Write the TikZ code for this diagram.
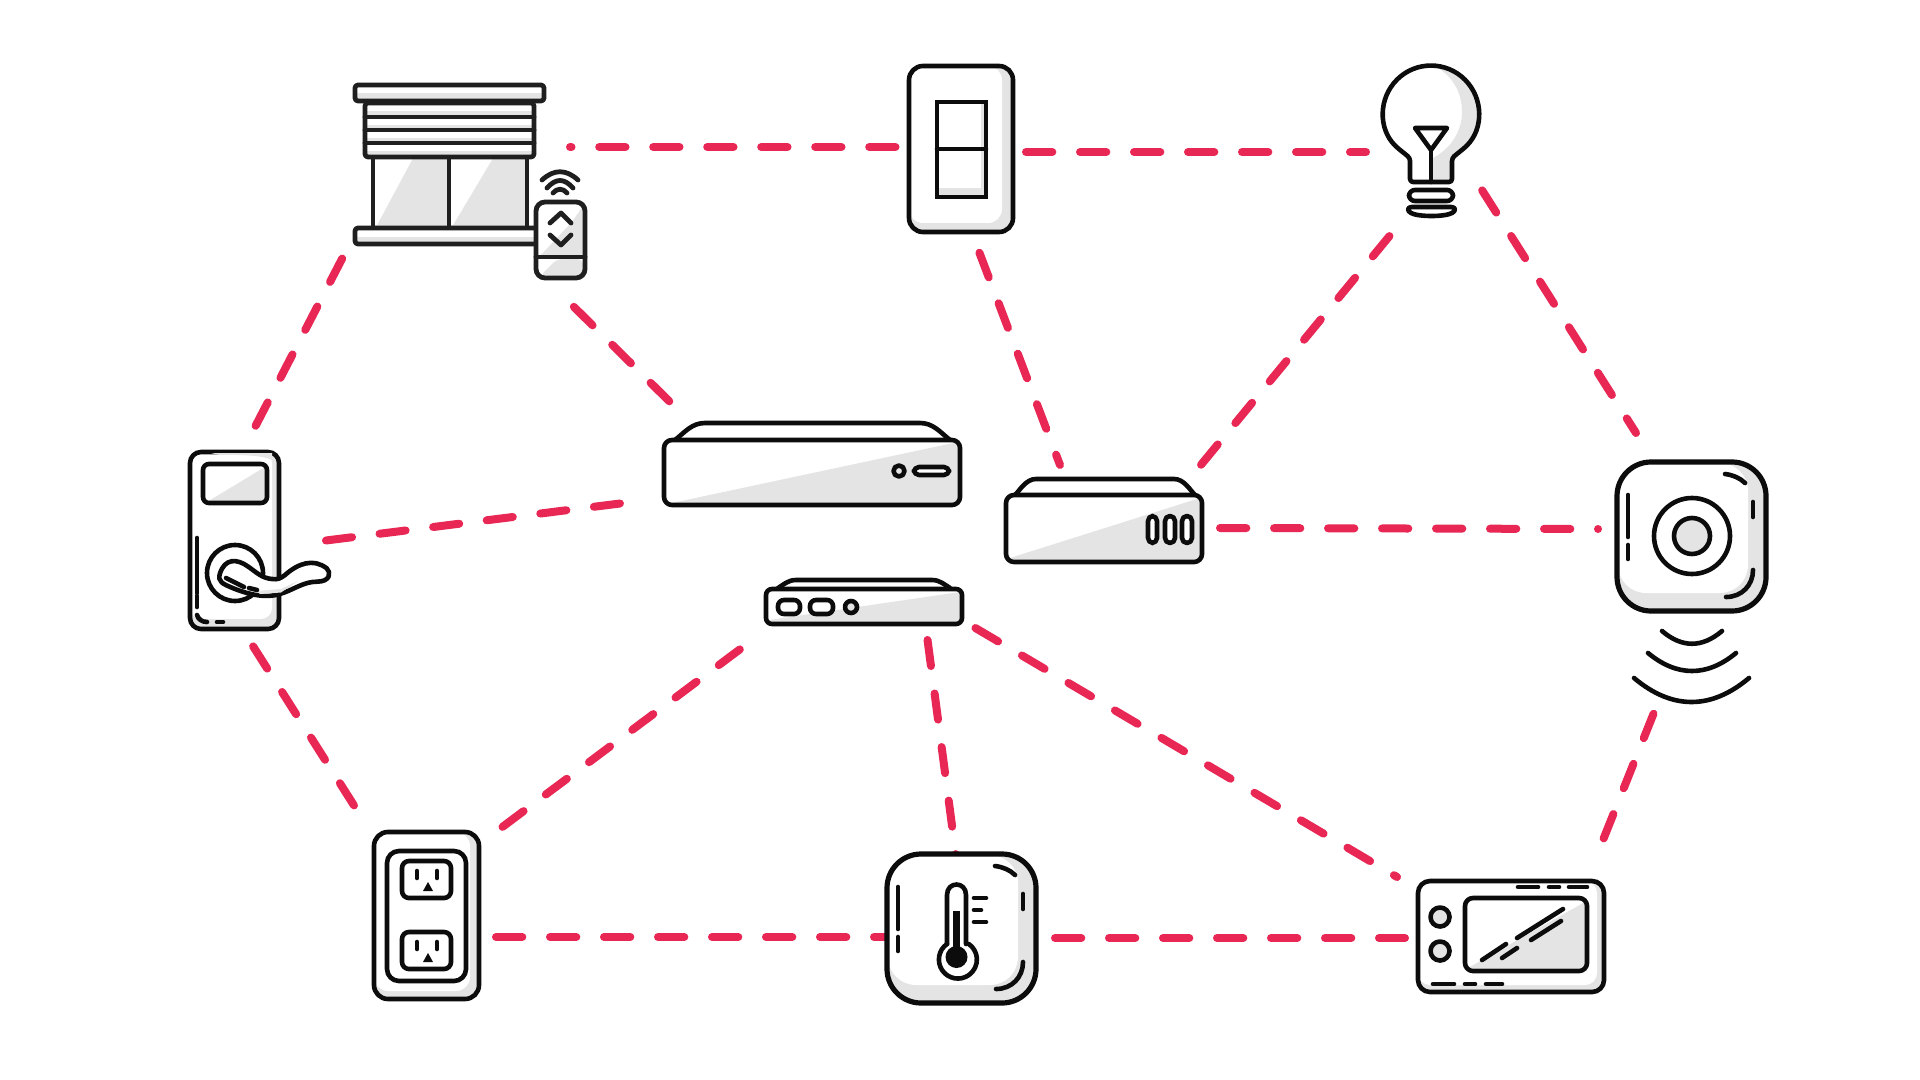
\documentclass[tikz,border=0pt]{standalone}
\definecolor{linkred}{HTML}{E82754}
\definecolor{shadegrey}{HTML}{E4E4E4}
\definecolor{inkblack}{HTML}{0C0C0C}
\tikzset{
  link/.style={draw=linkred,line width=4pt,line cap=round,shorten <=2pt,dash pattern=on 13.15pt off 13.85pt},
  ink/.style={draw=inkblack,line width=2.3pt,line join=round,line cap=round},
  shade/.style={fill=shadegrey},
}
% outer plate: x1 y1 x2 y2 radius(pt) white-right white-bottom
\newcommand{\plateshape}[7]{%
  \fill[shade,rounded corners=#5] (#1,#2) rectangle (#3,#4);
  \fill[white,rounded corners=#5] (#1,#2) rectangle (#6,#7);
  \draw[ink,rounded corners=#5] (#1,#2) rectangle (#3,#4);
}
\newcommand{\padshape}{%
  \fill[shade,rounded corners=17pt] (1617,462) rectangle (1766,611);
  \fill[white,rounded corners=14pt] (1618,463) rectangle (1748,593);
  \draw[ink,line width=2.6pt,rounded corners=17pt] (1617,462) rectangle (1766,611);
  \draw[ink] (1628,495) -- (1628,537);
  \draw[ink] (1628,545) -- (1628,559);
  \draw[ink] (1725,474) .. controls (1733,475) and (1740,478) .. (1745,483);
  \draw[ink] (1753,502) -- (1753,517);
  \draw[ink] (1753,570) .. controls (1753,585) and (1742,597) .. (1726,597);
}
\begin{document}
\begin{tikzpicture}[x=0.5pt,y=-0.5pt]
\useasboundingbox (0,0) rectangle (1920,1080);
\fill[white] (0,0) rectangle (1920,1080);

% ---------- connector ends ----------
\coordinate (blindsE) at (570,147);   \coordinate (switchW) at (899.5,147);
\coordinate (switchE) at (1022,152);  \coordinate (bulbW) at (1366,152);
\coordinate (blindsS) at (344,255);   \coordinate (lockN) at (255,427);
\coordinate (remoteS) at (571,304);   \coordinate (hubAN) at (670,402);
\coordinate (switchS) at (978,249);   \coordinate (hubBNw) at (1060,465);
\coordinate (bulbSw) at (1392,233);   \coordinate (hubBNe) at (1200,466);
\coordinate (bulbSe) at (1480,187);   \coordinate (speakerN) at (1636,433);
\coordinate (hubBE) at (1216,528);    \coordinate (speakerW) at (1598,529);
\coordinate (lockE) at (322,541);     \coordinate (hubAW) at (624,503);
\coordinate (lockS) at (251,643);     \coordinate (outletN) at (355,807);
\coordinate (hubCSw) at (743,647);    \coordinate (outletNe) at (501,828);
\coordinate (hubCS) at (927,636);     \coordinate (thermoN) at (956,856);
\coordinate (hubCSe) at (972,626);    \coordinate (panelNw) at (1397,877);
\coordinate (outletE) at (492,937);   \coordinate (thermoW) at (890,937);
\coordinate (thermoE) at (1051,938);  \coordinate (panelW) at (1405,938);
\coordinate (speakerS) at (1655,710); \coordinate (panelN) at (1603,840);

% ---------- connectors ----------
\draw[link] (switchW) -- (blindsE);
\draw[link] (switchE) -- (bulbW);
\draw[link] (blindsS) -- (lockN);
\draw[link] (remoteS) -- (hubAN);
\draw[link] (switchS) -- (hubBNw);
\draw[link] (bulbSw) -- (hubBNe);
\draw[link] (bulbSe) -- (speakerN);
\draw[link] (hubBE) -- (speakerW);
\draw[link] (lockE) -- (hubAW);
\draw[link] (lockS) -- (outletN);
\draw[link] (hubCSw) -- (outletNe);
\draw[link] (hubCS) -- (thermoN);
\draw[link] (hubCSe) -- (panelNw);
\draw[link] (outletE) -- (thermoW);
\draw[link] (thermoE) -- (panelW);
\draw[link] (speakerS) -- (panelN);

% ---------- blinds ----------
\begin{scope}[ink/.append style={draw=black!88,line width=2.4pt}]
\fill[shade] (373,158) rectangle (527,226);
\fill[white] (373,158) -- (413,158) -- (377,225) -- (373,225) -- cycle;
\fill[white] (449,158) -- (493,158) -- (453,225) -- (449,225) -- cycle;
\draw[ink] (373,158) -- (373,227) (449,158) -- (449,227) (527,158) -- (527,227);
\foreach \yy in {103,117,130,143} {
  \fill[white] (365,\yy) rectangle (534,\yy+14);
  \fill[shade] (365,\yy+8) rectangle (534,\yy+14);
}
\draw[ink,rounded corners=1.5pt] (365,103) rectangle (534,157);
\draw[ink] (365,117) -- (534,117) (365,130) -- (534,130) (365,143) -- (534,143);
\fill[white] (355,85) rectangle (544,101);
\fill[shade] (356,93) rectangle (543,100);
\draw[ink,rounded corners=1.5pt] (355,85) rectangle (544,101);
\fill[white] (355,228) rectangle (540,244);
\fill[shade] (356,237) rectangle (540,243);
\draw[ink,rounded corners=1.5pt] (355,228) rectangle (540,244);
% remote
\fill[white,rounded corners=4.5pt] (536,202) rectangle (585,278);
\fill[shade] (583,206) -- (583,256) -- (540,256) -- (572,222) -- cycle;
\fill[shade,rounded corners=3pt] (583,259) -- (583,276) -- (540,276) -- (557,259) -- cycle;
\draw[ink,rounded corners=4.5pt] (536,202) rectangle (585,278);
\draw[ink] (536,257) -- (585,257);
\draw[ink] (550,223) -- (561,213) -- (571,223);
\draw[ink] (550,235) -- (561,245) -- (571,235);
\draw[ink] (542,180) .. controls (554,169) and (566,169) .. (578,180);
\draw[ink] (547,188) .. controls (556,178) and (564,178) .. (573,188);
\draw[ink] (553,193) .. controls (557,188) and (563,188) .. (567,193);
\end{scope}

% ---------- switch ----------
\plateshape{909}{66}{1013}{232}{7pt}{1002}{223}
\fill[white] (937,102) rectangle (986,197);
\fill[shade] (981,103) rectangle (985,149);
\fill[shade] (981,151) rectangle (985,197);
\fill[shade] (938,188) rectangle (985,197);
\draw[ink,line join=miter] (937,102) rectangle (986,197);
\draw[ink] (937,149) -- (986,149);

% ---------- bulb ----------
\fill[white] (1410,182) -- (1410,158) -- (1397,147.5) arc[start angle=135,end angle=405,radius=48] -- (1452,158) -- (1452,182) -- cycle;
\fill[shade] (1438,68) .. controls (1462,70) and (1478,90) .. (1479,113)
  .. controls (1479,130) and (1475,140) .. (1465,148) -- (1452,158) -- (1452,182) -- (1433,182) -- (1433,158)
  .. controls (1452,148) and (1462,130) .. (1462,112) .. controls (1462,90) and (1450,75) .. (1438,68) -- cycle;
\draw[ink,rounded corners=1.5pt] (1410,182) -- (1410,158) -- (1397,147.5) arc[start angle=135,end angle=405,radius=48] -- (1452,158) -- (1452,182) -- cycle;
\draw[ink] (1415,128) -- (1447,128) -- (1431,150) -- cycle;
\draw[ink] (1431,150) -- (1431,182);
\draw[ink,rounded corners=3pt] (1409,190) rectangle (1453,201);
\draw[ink] (1412,207) -- (1451,207) .. controls (1456,207) and (1456,211) .. (1452,213) .. controls (1445,217) and (1418,217) .. (1411,213) .. controls (1407,211) and (1407,207) .. (1412,207) -- cycle;

% ---------- speaker ----------
\padshape
\draw[ink] (1692,536) circle (38);
\draw[ink,fill=shadegrey] (1692,536) circle (18);
\draw[ink] (1662,631) .. controls (1682,648) and (1702,648) .. (1722,631);
\draw[ink] (1648,653) .. controls (1677,677) and (1707,677) .. (1736,653);
\draw[ink] (1634,678) .. controls (1672,710) and (1711,710) .. (1749,678);

% ---------- lock ----------
\plateshape{190}{452}{279}{629}{5.5pt}{272}{619}
\fill[shade] (211,453) -- (272,453) -- (272,460) .. controls (260,454) and (230,455) .. (220,455) -- cycle;
\draw[ink] (197,538) -- (197,593);
\draw[ink] (197,596) -- (197,607);
\draw[ink] (197,615) .. controls (198,619) and (202,622) .. (207,622);
\draw[ink] (217,622) -- (223,622);
\fill[white,rounded corners=3pt] (203,464) rectangle (267,503);
\fill[shade] (207,502) -- (265,467) -- (265,502) -- cycle;
\draw[ink,rounded corners=3pt] (203,464) rectangle (267,503);
\draw[ink,fill=white] (235,573) circle (28);
\draw[ink,fill=white] (220,573.3) .. controls (225,558.3) and (236.7,558.3) .. (248.3,566.7)
  .. controls (256,572) and (262,578.3) .. (272,579) .. controls (278,580) and (281,578) .. (285,575)
  .. controls (298.3,563.3) and (313.3,558) .. (326.7,568.3)
  .. controls (331,572) and (331,581.7) .. (316.7,581.7)
  .. controls (303.3,581.7) and (293.3,590) .. (280,594)
  .. controls (266.7,598.3) and (250,595) .. (233.3,588.3)
  .. controls (223.3,584) and (217,582) .. (220,573.3) -- cycle;
\fill[shade] (256,591) -- (281,589) -- (298,581) -- (281,592.5) -- (260,594) -- cycle;
\draw[ink] (226,578) -- (244,587);
\draw[ink] (249,588) -- (257,590);

% ---------- hub A ----------
\draw[ink,fill=white] (675,440) .. controls (685,432) and (692,423) .. (705,423) -- (920,423) .. controls (933,423) and (940,432) .. (950,440);
\fill[white,rounded corners=4pt] (664,440) rectangle (960,505);
\fill[shade] (672,503) -- (958,442) -- (958,503) -- cycle;
\draw[ink,rounded corners=4pt] (664,440) rectangle (960,505);
\draw[ink,fill=shadegrey] (899,471) circle (5.5);
\draw[ink,fill=white,rounded corners=2.5pt] (914,467) rectangle (949,475);

% ---------- hub B ----------
\draw[ink,fill=white] (1015,495) .. controls (1020,490) and (1026,479) .. (1036,479) -- (1174,479) .. controls (1184,479) and (1190,490) .. (1195,495);
\fill[white,rounded corners=4pt] (1006,495) rectangle (1202,562);
\fill[shade] (1010,558) -- (1200,498) -- (1200,560) -- (1010,560) -- cycle;
\draw[ink,rounded corners=4pt] (1006,495) rectangle (1202,562);
\foreach \xa/\xb in {1148/1157,1165/1175,1182/1192} {
  \draw[ink,fill=white,rounded corners=2.5pt] (\xa,516) rectangle (\xb,543);
}

% ---------- hub C ----------
\draw[ink,fill=white] (778,588) .. controls (783,585) and (788,580) .. (796,580) -- (932,580) .. controls (940,580) and (945,585) .. (950,588);
\fill[white,rounded corners=3pt] (766,589) rectangle (962,624);
\fill[shade] (769,620) -- (960,592) -- (960,623) -- (769,623) -- cycle;
\draw[ink,rounded corners=3pt] (766,589) rectangle (962,624);
\draw[ink,fill=white,rounded corners=3pt] (778,600) rectangle (800,614);
\draw[ink,fill=white,rounded corners=3pt] (810,600) rectangle (833,614);
\draw[ink,fill=shadegrey] (851,607) circle (6);

% ---------- outlet ----------
\plateshape{374}{832}{479}{999}{7pt}{470}{991}
\draw[ink,rounded corners=6pt] (387,851) rectangle (466,981);
\foreach \dy in {0,71} {
  \begin{scope}[yshift=-\dy*0.5pt]
    \fill[shade,rounded corners=3.5pt] (402,861) rectangle (451,898);
    \fill[white,rounded corners=3.5pt] (402,861) rectangle (449,896);
    \draw[ink,rounded corners=3.5pt] (402,861) rectangle (451,898);
    \draw[ink] (417,871) -- (417,878) (437,871) -- (437,878);
    \fill[inkblack] (423,891) -- (433,891) -- (428,882) -- cycle;
  \end{scope}
}

% ---------- thermostat ----------
\begin{scope}[shift={(-730,392)}]
  \padshape
\end{scope}
\draw[ink] (947,944) -- (947,895) .. controls (947,881) and (966,881) .. (966,895) -- (966,944);
\draw[ink] (947,944) arc[start angle=-125,end angle=-415,radius=19] ;
\fill[inkblack] (956.5,957) circle (11);
\fill[inkblack] (953,911) rectangle (960,950);
\draw[ink] (974,898) -- (986,898) (974,910) -- (981,910) (974,922) -- (986,922);

% ---------- panel ----------
\plateshape{1418}{881}{1604}{992}{6pt}{1597}{985}
\fill[white,rounded corners=4pt] (1465,898) rectangle (1587,971);
\fill[shade] (1468,968) -- (1585,902) -- (1585,968) -- cycle;
\draw[ink,rounded corners=4pt] (1465,898) rectangle (1587,971);
\draw[ink,fill=shadegrey] (1440,917) circle (9.5);
\draw[ink,fill=shadegrey] (1440,951) circle (9.5);
\draw[ink] (1517,938) -- (1563,909);
\draw[ink] (1482,960) -- (1506,944);
\draw[ink] (1531,940) -- (1561,921);
\draw[ink] (1502,958) -- (1517,948);
\draw[ink] (1518,887) -- (1538,887) (1549,887) -- (1559,887) (1569,887) -- (1587,887);
\draw[ink] (1433,984) -- (1454,984) (1465,984) -- (1475,984) (1486,984) -- (1502,984);
\end{tikzpicture}
\end{document}
